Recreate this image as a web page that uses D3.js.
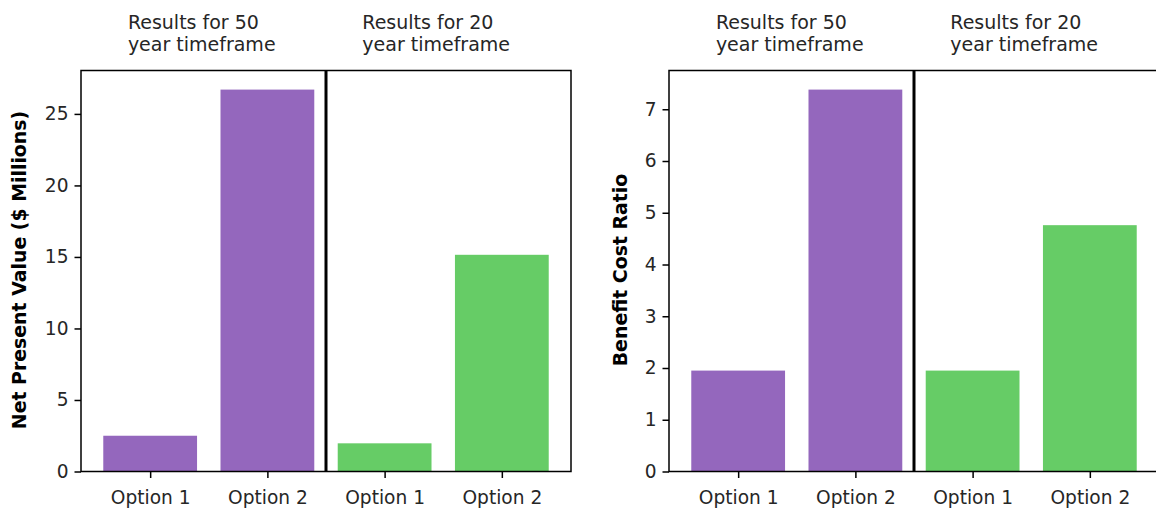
<!DOCTYPE html>
<html><head><meta charset="utf-8">
<script src="https://cdn.jsdelivr.net/npm/d3@7"></script>
<style>body{margin:0;background:#fff}svg{display:block}text{font-family:"DejaVu Sans",sans-serif;fill:#262626}</style>
</head><body>
<svg id="c" width="1156" height="508"></svg>
<script>
const categories = ["Option 1", "Option 2", "Option 1", "Option 2"];
const groups = ["50", "50", "20", "20"];
const npvValues = [2.5, 26.7, 1.97, 15.15];
const bcrValues = [1.95, 7.38, 1.95, 4.76];
const yTicksNpv = [0, 5, 10, 15, 20, 25];
const yTicksBcr = [0, 1, 2, 3, 4, 5, 6, 7];
const titleLines = [["Results for 50", "year timeframe"], ["Results for 20", "year timeframe"]];
const titleAnchors = [-0.19, 1.81];
const colors = {"50": "#9467bd", "20": "#66cc66"};

const svg = d3.select("#c");
const FS = 18.6;
const plotTop = 70.5, plotBottom = 471.5;

function panel(x0, x1, values, ticks, label, labelX) {
  const g = svg.append("g");
  const x = d3.scaleLinear().domain([-0.59, 3.59]).range([x0, x1]);
  const y = d3.scaleLinear().domain([0, d3.max(values) * 1.05]).range([plotBottom, plotTop]);
  g.selectAll("rect.bar").data(values).enter().append("rect")
    .attr("x", (d, i) => x(i - 0.4)).attr("width", (d, i) => x(i + 0.4) - x(i - 0.4))
    .attr("y", d => y(d)).attr("height", d => y(0) - y(d))
    .attr("fill", (d, i) => colors[groups[i]]);
  g.append("line").attr("x1", x(1.5)).attr("x2", x(1.5)).attr("y1", plotTop).attr("y2", plotBottom)
    .attr("stroke", "#000").attr("stroke-width", 3);
  g.append("rect").attr("x", x0).attr("y", plotTop).attr("width", x1 - x0).attr("height", plotBottom - plotTop)
    .attr("fill", "none").attr("stroke", "#000").attr("stroke-width", 1.5);
  const ya = g.append("g").attr("transform", `translate(${x0},0)`)
    .call(d3.axisLeft(y).tickValues(ticks).tickSize(6.5).tickPadding(6).tickFormat(d3.format("d")));
  ya.select(".domain").remove();
  ya.selectAll("line").attr("stroke", "#000").attr("stroke-width", 1.5);
  ya.selectAll("text").attr("font-size", FS).attr("font-family", "DejaVu Sans").attr("fill", "#262626");
  const xa = g.append("g").attr("transform", `translate(0,${plotBottom})`)
    .call(d3.axisBottom(x).tickValues(d3.range(categories.length)).tickSize(6.5).tickPadding(13)
      .tickFormat(i => categories[i]));
  xa.select(".domain").remove();
  xa.selectAll("line").attr("stroke", "#000").attr("stroke-width", 1.5);
  xa.selectAll("text").attr("font-size", FS).attr("font-family", "DejaVu Sans").attr("fill", "#262626");
  titleLines.forEach((lines, k) => {
    const t = g.append("text").attr("x", x(titleAnchors[k])).attr("y", 29).attr("font-size", 19);
    lines.forEach((ln, j) => t.append("tspan").attr("x", x(titleAnchors[k])).attr("dy", j === 0 ? 0 : 22).text(ln));
  });
  g.append("text").attr("transform", `translate(${labelX},${(plotTop + plotBottom) / 2 - 1}) rotate(-90)`)
    .attr("text-anchor", "middle").attr("font-size", 18.9).attr("font-weight", "bold").style("fill", "#000")
    .attr("dy", "0.35em").text(label);
}

panel(81, 571, npvValues, yTicksNpv, "Net Present Value ($ Millions)", 19);
panel(669, 1159, bcrValues, yTicksBcr, "Benefit Cost Ratio", 620);
</script>
</body></html>
